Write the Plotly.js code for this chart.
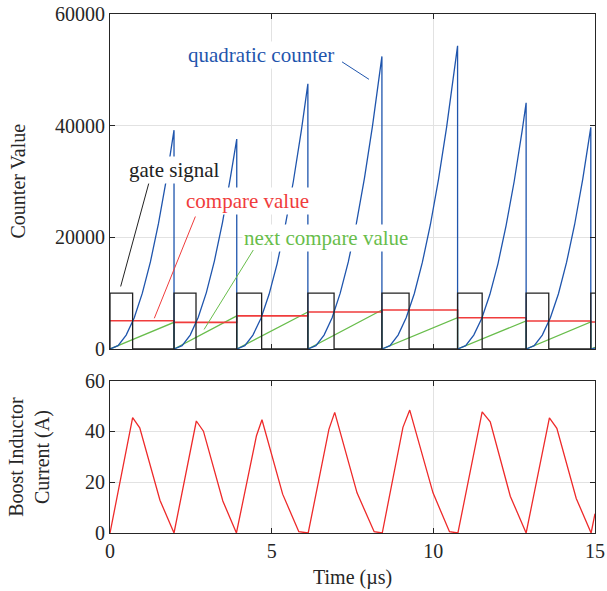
<!DOCTYPE html>
<html>
<head>
<meta charset="utf-8">
<script src="https://cdn.plot.ly/plotly-3.0.1.min.js"></script>
<style>html,body{margin:0;padding:0;background:#fff;}#chart{width:607px;height:591px;}</style>
</head>
<body>
<div id="chart"></div>
<script>
// Quadratic counter (time in µs, counter value)
const counterT = [
  0, 0.25, 0.5, 0.75, 1.0, 1.25, 1.5, 1.75, 1.98,
  1.98, 2.23, 2.48, 2.73, 2.98, 3.23, 3.48, 3.73, 3.92,
  3.92, 4.17, 4.42, 4.67, 4.92, 5.17, 5.42, 5.67, 5.92, 6.12,
  6.12, 6.37, 6.62, 6.87, 7.12, 7.37, 7.62, 7.87, 8.12, 8.41,
  8.41, 8.66, 8.91, 9.16, 9.41, 9.66, 9.91, 10.16, 10.41, 10.75,
  10.75, 11.0, 11.25, 11.5, 11.75, 12.0, 12.25, 12.5, 12.75, 12.87,
  12.87, 13.12, 13.37, 13.62, 13.87, 14.12, 14.37, 14.62, 14.87,
  14.87, 15.0
];
const counterV = [
  0, 600, 2500, 5600, 10000, 15600, 22500, 30600, 39200,
  0, 600, 2500, 5700, 10100, 15800, 22700, 30900, 37600,
  0, 600, 2500, 5500, 9800, 15300, 22100, 30000, 39200, 47500,
  0, 600, 2500, 5600, 10000, 15600, 22500, 30600, 40000, 52400,
  0, 600, 2500, 5600, 9900, 15500, 22300, 30400, 39700, 54300,
  0, 600, 2500, 5500, 9800, 15300, 22100, 30000, 39200, 44100,
  0, 600, 2500, 5600, 9900, 15500, 22300, 30400, 39700,
  0, 170
];
// Gate signal edges (step, hv)
const gateT = [0, 0, 0.70, 1.98, 2.66, 3.92, 4.69, 6.12, 6.93, 8.41, 9.25, 10.75, 11.51, 12.87, 13.57, 14.87, 15.0];
const gateV = [0, 10000, 0, 10000, 0, 10000, 0, 10000, 0, 10000, 0, 10000, 0, 10000, 0, 10000, 10000];
// Compare value (step, hv)
const compareT = [0, 1.98, 3.92, 6.12, 8.41, 10.75, 12.87, 14.87, 15.0];
const compareV = [5070, 4780, 5940, 6630, 6990, 5610, 5020, 4840, 4840];
// Next compare value (ramps)
const nextT = [0, 1.98, 1.98, 3.92, 3.92, 6.12, 6.12, 8.41, 8.41, 10.75, 10.75, 12.87, 12.87, 14.87, 14.87, 15.0];
const nextV = [0, 4780, 0, 5940, 0, 6630, 0, 6990, 0, 5610, 0, 5020, 0, 4840, 0, 300];
// Boost inductor current (A)
const currentT = [0, 0.70, 0.92, 1.545, 1.98, 2.67, 2.89, 3.49, 3.91, 4.53, 4.70, 5.34, 5.84, 6.13, 6.77, 6.95, 7.64, 8.17, 8.42, 9.06, 9.27, 9.99, 10.50, 10.76, 11.51, 11.76, 12.38, 12.87, 13.59, 13.82, 14.42, 14.88, 15.0];
const currentI = [0, 45.4, 41.4, 12.9, 0, 44.1, 40.1, 12.6, 0, 38.3, 44.6, 15.3, 0.5, 0, 40.8, 47.5, 15.8, 0.5, 0, 41.6, 48.4, 15.8, 0.5, 0, 47.7, 43.8, 14.5, 0, 45.3, 41.2, 13.6, 0, 7.6];
// Axis ticks
const timeTicks = [0, 5, 10, 15];
const counterTicks = [0, 20000, 40000, 60000];
const currentTicks = [0, 20, 40, 60];

const BLUE = '#1f55ad', RED = '#f03c3c', GREEN = '#68bd4b', BLACK = '#222222';
const FONT = 'Liberation Serif, Times New Roman, serif';

const traces = [
  {x: nextT, y: nextV, xaxis: 'x', yaxis: 'y', mode: 'lines', line: {color: GREEN, width: 1.3}, hoverinfo: 'skip'},
  {x: compareT, y: compareV, xaxis: 'x', yaxis: 'y', mode: 'lines', line: {color: RED, width: 1.6, shape: 'hv'}, hoverinfo: 'skip'},
  {x: counterT, y: counterV, xaxis: 'x', yaxis: 'y', mode: 'lines', line: {color: BLUE, width: 1.3}, hoverinfo: 'skip'},
  {x: gateT, y: gateV, xaxis: 'x', yaxis: 'y', mode: 'lines', line: {color: BLACK, width: 1.3, shape: 'hv'}, hoverinfo: 'skip'},
  {x: currentT, y: currentI, xaxis: 'x2', yaxis: 'y2', mode: 'lines', line: {color: '#ee2a2a', width: 1.3}, hoverinfo: 'skip'}
];

const axisCommon = {
  showline: true, linecolor: '#262626', linewidth: 1, mirror: 'ticks',
  ticks: 'inside', ticklen: 5, tickcolor: '#262626', tickwidth: 1,
  showgrid: true, gridcolor: '#e2e2e2', gridwidth: 1, zeroline: false,
  tickfont: {family: FONT, size: 20, color: '#262626'}, fixedrange: true
};

function leader(x, y, ax, ay, color) {
  return {x: x, y: y, ax: ax, ay: ay, xref: 'x', yref: 'y', axref: 'x', ayref: 'y', text: '',
    showarrow: true, arrowhead: 0, arrowwidth: 1, arrowcolor: color, standoff: 0, startstandoff: 0};
}
function label(x, y, text, color) {
  return {x: x, y: y, xref: 'x', yref: 'y', text: text, showarrow: false, bgcolor: '#ffffff', borderpad: 1,
    font: {family: FONT, size: 21, color: color}, xanchor: 'center', yanchor: 'middle'};
}

const layout = {
  width: 607, height: 591,
  margin: {l: 110, r: 11.5, t: 14, b: 58},
  paper_bgcolor: '#ffffff', plot_bgcolor: '#ffffff',
  showlegend: false,
  xaxis: Object.assign({}, axisCommon, {domain: [0, 1], anchor: 'y', range: [0, 15], tickvals: timeTicks, showticklabels: false}),
  yaxis: Object.assign({}, axisCommon, {domain: [0.3545, 1], anchor: 'x', range: [0, 60000], tickvals: counterTicks, tickformat: 'd'}),
  xaxis2: Object.assign({}, axisCommon, {domain: [0, 1], anchor: 'y2', range: [0, 15], tickvals: timeTicks}),
  yaxis2: Object.assign({}, axisCommon, {domain: [0, 0.2936], anchor: 'x2', range: [0, 60], tickvals: currentTicks}),
  annotations: [
    label(4.68, 52700, 'quadratic counter', BLUE),
    leader(8.01, 48300, 7.13, 51600, BLUE),
    label(2.0, 32000, 'gate signal', BLACK),
    leader(0.33, 11200, 1.21, 29900, BLACK),
    label(4.26, 26500, 'compare value', RED),
    leader(1.37, 5500, 2.66, 24000, RED),
    label(6.69, 19800, 'next compare value', GREEN),
    leader(2.91, 3500, 4.46, 18000, GREEN),
    {xref: 'paper', yref: 'paper', x: 0, y: (0.3545 + 1) / 2, xshift: -92, text: 'Counter Value', textangle: -90,
      showarrow: false, xanchor: 'center', yanchor: 'middle', font: {family: FONT, size: 20, color: '#262626'}},
    {xref: 'paper', yref: 'paper', x: 0, y: 0.2936 / 2, xshift: -80, text: 'Boost Inductor<br>Current (A)', textangle: -90,
      showarrow: false, xanchor: 'center', yanchor: 'middle', font: {family: FONT, size: 20, color: '#262626'}},
    {xref: 'paper', yref: 'paper', x: 0.5, y: 0, yshift: -44, text: 'Time (µs)',
      showarrow: false, xanchor: 'center', yanchor: 'middle', font: {family: FONT, size: 20, color: '#262626'}}
  ]
};

Plotly.newPlot('chart', traces, layout, {staticPlot: true, displayModeBar: false});
</script>
</body>
</html>
